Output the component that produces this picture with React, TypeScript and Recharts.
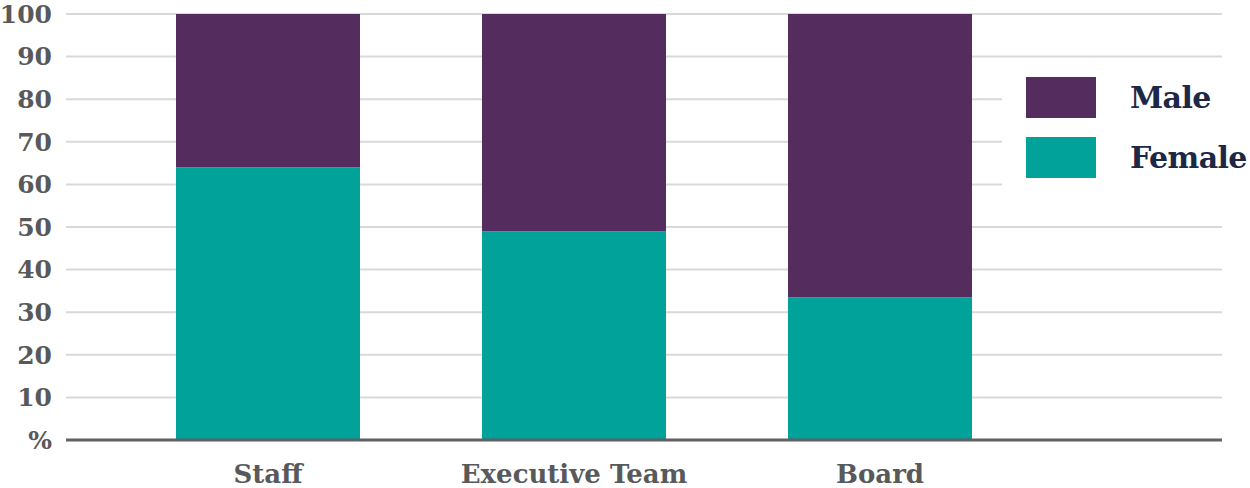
import React from 'react';
import { BarChart, Bar, XAxis, YAxis, CartesianGrid, Legend } from 'recharts';

const categories = ['Staff', 'Executive Team', 'Board'];
const femaleValues = [64, 49, 33.5];
const maleValues = [36, 51, 66.5];
const yTicks = [0, 10, 20, 30, 40, 50, 60, 70, 80, 90, 100];

const data = categories.map((name, i) => ({ name, Female: femaleValues[i], Male: maleValues[i] }));

const MALE = '#542d5e';
const FEMALE = '#00a29a';
const FONT = '"DejaVu Serif", serif';

const legendItems = [
  { label: 'Male', color: MALE },
  { label: 'Female', color: FEMALE },
];

const LegendContent = () => (
  <div style={{ position: 'relative', width: 248, height: 136, background: '#fff' }}>
    {legendItems.map((it, i) => (
      <div key={it.label} style={{ position: 'absolute', left: 24, top: 15 + i * 60, height: 41, display: 'flex', alignItems: 'center', whiteSpace: 'nowrap' }}>
        <div style={{ width: 70, height: 41, background: it.color }} />
        <span style={{ marginLeft: 34, fontFamily: FONT, fontWeight: 700, fontSize: 30, letterSpacing: -0.6, color: '#1c2846', lineHeight: '41px' }}>{it.label}</span>
      </div>
    ))}
  </div>
);

export default function App() {
  return (
    <div style={{ position: 'absolute', left: 0, top: 0 }}>
      <BarChart width={1250} height={488} data={data} margin={{ top: 14, right: 28, bottom: 0, left: 0 }}>
        <CartesianGrid vertical={false} stroke="#d9d9d9" strokeWidth={2} />
        <XAxis
          dataKey="name"
          axisLine={{ stroke: '#5f6165', strokeWidth: 3 }}
          tickLine={false}
          height={48}
          tickMargin={19}
          padding={{ left: 49, right: 189 }}
          tick={{ fill: '#58595b', fontFamily: FONT, fontWeight: 700, fontSize: 26 }}
          interval={0}
        />
        <YAxis
          domain={[0, 100]}
          ticks={yTicks}
          interval={0}
          width={66}
          axisLine={false}
          tickLine={false}
          tickMargin={8}
          tickFormatter={(v) => (v === 0 ? '%' : String(v))}
          tick={{ fill: '#58595b', fontFamily: FONT, fontWeight: 700, fontSize: 25 }}
        />
        <Legend
          layout="vertical"
          align="center"
          verticalAlign="middle"
          content={<LegendContent />}
          wrapperStyle={{ position: 'absolute', left: 1002, top: 62, width: 248, height: 136 }}
        />
        <Bar dataKey="Female" stackId="a" fill={FEMALE} barSize={184} isAnimationActive={false} />
        <Bar dataKey="Male" stackId="a" fill={MALE} barSize={184} isAnimationActive={false} />
      </BarChart>
    </div>
  );
}
